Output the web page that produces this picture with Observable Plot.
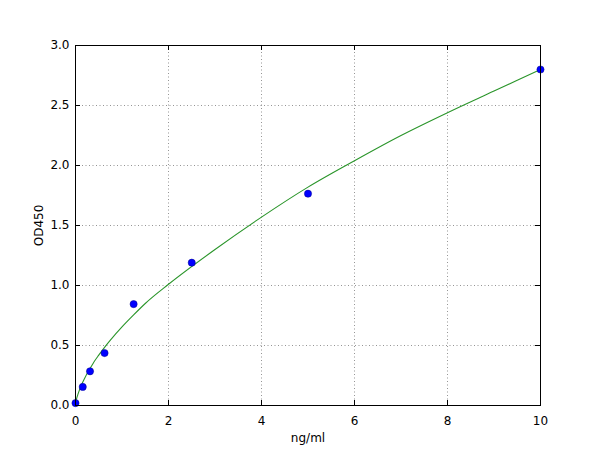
<!DOCTYPE html>
<html><head><meta charset="utf-8">
<script src="https://cdn.jsdelivr.net/npm/d3@7"></script>
<script src="https://cdn.jsdelivr.net/npm/@observablehq/plot@0.6"></script>
<style>body{margin:0;background:#fff} svg{font-family:"DejaVu Sans",sans-serif}</style>
</head><body><div id="chart"></div>
<script>
// Measured standards
const concentration = [0, 0.156, 0.3125, 0.625, 1.25, 2.5, 5, 10];
const od450 = [0.02, 0.155, 0.285, 0.437, 0.845, 1.19, 1.765, 2.80];
// Fitted curve
const curveX = [0, 0.025, 0.05, 0.1, 0.15, 0.2, 0.3, 0.4, 0.5, 0.625, 0.75, 1, 1.25, 1.5, 2, 3, 4, 5, 6, 7, 8, 9, 10];
const curveY = [0.02, 0.06, 0.09, 0.145, 0.19, 0.23, 0.30, 0.365, 0.42, 0.485, 0.545, 0.655, 0.755, 0.85, 1.01, 1.30, 1.57, 1.82, 2.04, 2.25, 2.44, 2.62, 2.80];
const xTicks = [0, 2, 4, 6, 8, 10];
const yTicks = [0, 0.5, 1.0, 1.5, 2.0, 2.5, 3.0];
const xGrid = [2, 4, 6, 8];
const yGrid = [0.5, 1.0, 1.5, 2.0, 2.5];

const points = concentration.map((x, i) => ({x, y: od450[i]}));
const curve = curveX.map((x, i) => ({x, y: curveY[i]}));

const W = 600, H = 450, mL = 75, mR = 60, mT = 45, mB = 45;
const fh = H - mT - mB, fw = W - mL - mR, tk = 5;

const chart = Plot.plot({
  width: W, height: H,
  marginLeft: mL, marginRight: mR, marginTop: mT, marginBottom: mB,
  style: {fontSize: "12px", fontFamily: "DejaVu Sans, sans-serif", color: "#000", background: "#fff"},
  x: {domain: [0, 10]},
  y: {domain: [0, 3]},
  marks: [
    Plot.ruleX(xGrid, {stroke: "#000", strokeOpacity: 0.7, strokeWidth: 0.6, strokeDasharray: "1,2.5"}),
    Plot.ruleY(yGrid, {stroke: "#000", strokeOpacity: 0.7, strokeWidth: 0.6, strokeDasharray: "1,2.5"}),
    // inward ticks
    Plot.ruleX(xTicks, {insetTop: fh - tk, stroke: "#000"}),
    Plot.ruleX(xTicks, {insetBottom: fh - tk, stroke: "#000"}),
    Plot.ruleY(yTicks, {insetRight: fw - tk, stroke: "#000"}),
    Plot.ruleY(yTicks, {insetLeft: fw - tk, stroke: "#000"}),
    Plot.axisX({ticks: xTicks, tickSize: 0, tickPadding: 11, label: null, tickFormat: d3.format("d")}),
    Plot.axisY({ticks: yTicks, tickSize: 0, tickPadding: 6, label: null, tickFormat: d3.format(".1f")}),
    Plot.line(curve, {x: "x", y: "y", curve: "monotone-x", stroke: "#2a952a", strokeWidth: 1.1}),
    Plot.dot(points, {x: "x", y: "y", r: 3.6, fill: "#0000ff", stroke: "#00008b", strokeWidth: 0.5}),
    Plot.frame({stroke: "#000", strokeWidth: 1}),
    Plot.text(["ng/ml"], {frameAnchor: "bottom", dy: 36, fontSize: 12, fill: "#000"}),
    Plot.text(["OD450"], {frameAnchor: "left", textAnchor: "middle", dx: -36, rotate: -90, fontSize: 12, fill: "#000"})
  ]
});
document.getElementById("chart").appendChild(chart);
</script>
</body></html>
